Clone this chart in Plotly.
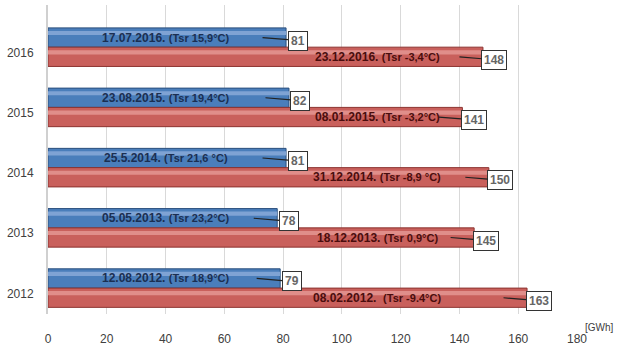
import plotly.graph_objects as go

# Peak daily consumption per year (GWh): summer minimum-season peak and winter peak
years = ["2012", "2013", "2014", "2015", "2016"]
summer_peak = [79, 78, 81, 82, 81]
winter_peak = [163, 145, 150, 141, 148]

summer_dates = ["12.08.2012.", "05.05.2013.", "25.5.2014.", "23.08.2015.", "17.07.2016."]
summer_temps = ["(Tsr 18,9°C)", "(Tsr 23,2°C)", "(Tsr 21,6 °C)", "(Tsr 19,4°C)", "(Tsr 15,9°C)"]
winter_dates = ["08.02.2012.\u00a0", "18.12.2013.", "31.12.2014.", "08.01.2015.", "23.12.2016."]
winter_temps = ["(Tsr -9.4°C)", "(Tsr 0,9°C)", "(Tsr -8,9 °C)", "(Tsr -3,2°C)", "(Tsr -3,4°C)"]

x_ticks = [0, 20, 40, 60, 80, 100, 120, 140, 160, 180]

# bar geometry along the category axis
BAR_W = 0.32
BLUE_OFF = 0.09
RED_OFF = BLUE_OFF - BAR_W
HL_W = 0.07

FONT = "Liberation Sans Narrow, Liberation Sans, Arial, sans-serif"

fig = go.Figure()

# main bars
fig.add_trace(go.Bar(
    y=years, x=summer_peak, orientation="h", offset=BLUE_OFF, width=BAR_W,
    marker=dict(color="#4a7ebb", line=dict(color="#2b4f7c", width=1)),
    hoverinfo="x", showlegend=False,
))
fig.add_trace(go.Bar(
    y=years, x=winter_peak, orientation="h", offset=RED_OFF, width=BAR_W,
    marker=dict(color="#c9605c", line=dict(color="#8c3330", width=1)),
    hoverinfo="x", showlegend=False,
))
# lighter highlight bands for a rounded look
fig.add_trace(go.Bar(
    y=years, x=summer_peak, orientation="h",
    offset=BLUE_OFF + BAR_W - 0.05 - HL_W, width=HL_W,
    marker=dict(color="#7fa3d4", line=dict(width=0)),
    hoverinfo="skip", showlegend=False,
))
fig.add_trace(go.Bar(
    y=years, x=winter_peak, orientation="h",
    offset=RED_OFF + BAR_W - 0.05 - HL_W, width=HL_W,
    marker=dict(color="#e08e8a", line=dict(width=0)),
    hoverinfo="skip", showlegend=False,
))

annotations = []
for i in range(len(years)):
    yb = i + BLUE_OFF + BAR_W / 2
    yr = i + RED_OFF + BAR_W / 2
    # text labels inside the bars
    annotations.append(dict(
        x=40, y=yb, xref="x", yref="y", showarrow=False,
        text=f"<b>{summer_dates[i]}</b> <b><span style='font-size:11px'>{summer_temps[i]}</span></b>",
        font=dict(family="Liberation Sans, Arial", size=12, color="#1b2f52"),
    ))
    annotations.append(dict(
        x=112, y=yr, xref="x", yref="y", showarrow=False,
        text=f"<b>{winter_dates[i]}</b> <b><span style='font-size:11px'>{winter_temps[i]}</span></b>",
        font=dict(family="Liberation Sans, Arial", size=12, color="#4a0d0d"),
    ))
    # value callouts
    for val, yc in ((summer_peak[i], yb), (winter_peak[i], yr)):
        annotations.append(dict(
            x=val - 8, y=yc, xref="x", yref="y",
            text=f"<b>{val}</b>", showarrow=True, arrowhead=0,
            arrowwidth=1.2, arrowcolor="#222222",
            ax=35, ay=3, axref="pixel", ayref="pixel",
            bgcolor="white", bordercolor="#333333", borderwidth=1, borderpad=2,
            font=dict(family=FONT, size=12, color="#666666"),
        ))

annotations.append(dict(
    x=1.0, y=-0.02, xref="paper", yref="paper", xanchor="left", yanchor="top",
    xshift=6, text="[GWh]", showarrow=False,
    font=dict(family=FONT, size=10, color="#404040"),
))

fig.update_layout(
    width=617, height=351,
    margin=dict(l=48, r=40, t=5, b=33),
    paper_bgcolor="white", plot_bgcolor="white",
    barmode="overlay",
    annotations=annotations,
    font=dict(family=FONT, size=12, color="#404040"),
)
fig.update_xaxes(
    range=[0, 180], tickvals=x_ticks, showgrid=True, gridcolor="#d9d9d9",
    gridwidth=1, zeroline=False, showline=False,
    ticks="outside", ticklen=14, tickcolor="rgba(0,0,0,0)",
    tickfont=dict(family=FONT, size=12, color="#404040"),
)
fig.update_yaxes(
    type="category", categoryorder="array", categoryarray=years,
    range=[-0.34, 4.79], showgrid=False, zeroline=False,
    showline=True, linecolor="#d0d0d0", linewidth=2,
    ticks="outside", ticklen=10, tickcolor="rgba(0,0,0,0)",
    tickfont=dict(family=FONT, size=12, color="#404040"),
)

fig.write_html("out.html")
